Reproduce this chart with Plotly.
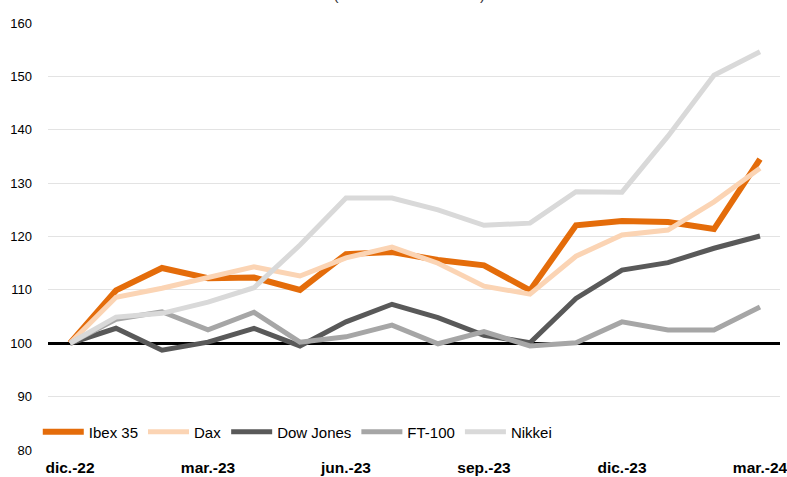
import plotly.graph_objects as go

months = ["dic.-22", "ene.-23", "feb.-23", "mar.-23", "abr.-23", "may.-23", "jun.-23", "jul.-23",
          "ago.-23", "sep.-23", "oct.-23", "nov.-23", "dic.-23", "ene.-24", "feb.-24", "mar.-24"]
ibex = [100, 109.9, 114.1, 112.2, 112.3, 110.0, 116.7, 117.1, 115.6, 114.6, 109.9, 122.1, 122.9, 122.7, 121.4, 134.5]
dax = [100, 108.6, 110.3, 112.2, 114.3, 112.6, 116.0, 118.0, 115.0, 110.7, 109.2, 116.3, 120.3, 121.2, 126.5, 132.8]
dow = [100, 102.8, 98.7, 100.2, 102.8, 99.5, 104.0, 107.3, 104.8, 101.5, 100.1, 108.4, 113.7, 115.1, 117.8, 120.1]
ft100 = [100, 104.5, 105.9, 102.5, 105.8, 100.2, 101.2, 103.4, 99.9, 102.2, 99.5, 100.1, 104.0, 102.5, 102.5, 106.8]
nikkei = [100, 104.9, 105.6, 107.7, 110.4, 118.4, 127.2, 127.2, 125.0, 122.1, 122.5, 128.4, 128.3, 138.8, 150.2, 154.6]

tick_vals = [0, 3, 6, 9, 12, 15]
tick_text = [months[i] for i in tick_vals]
y_ticks = [80, 90, 110, 120, 130, 140, 150, 160]
base_value = 100
title_text = "(Base 100 = dic. 2022)"

series = [
    ("Ibex 35", ibex, "#E46C0A", 6),
    ("Dax", dax, "#FBD4B4", 5),
    ("Dow Jones", dow, "#595959", 5),
    ("FT-100", ft100, "#A6A6A6", 5),
    ("Nikkei", nikkei, "#D9D9D9", 5),
]

x = list(range(len(months)))
fig = go.Figure()
for name, vals, color, w in series:
    fig.add_trace(go.Scatter(x=x, y=vals, name=name, mode="lines",
                             line=dict(color=color, width=w)))

# secondary overlay axis carries the 100 tick and its thick black gridline
fig.add_trace(go.Scatter(x=[None], y=[None], yaxis="y2", showlegend=False, hoverinfo="skip"))

fig.update_layout(
    width=787, height=477,
    margin=dict(l=48, r=7, t=23, b=27, autoexpand=False),
    paper_bgcolor="white", plot_bgcolor="white",
    font=dict(family="Liberation Sans, Arial, sans-serif", color="black", size=13),
    title=dict(text=title_text, x=0.52, xanchor="center", xref="container",
               y=0.9995, yanchor="bottom", font=dict(size=15, color="#333")),
    showlegend=True,
    legend=dict(orientation="h", xref="container", yref="container",
                x=0.048, y=1 - 432 / 477, xanchor="left", yanchor="middle",
                bgcolor="rgba(0,0,0,0)", font=dict(size=15), itemwidth=41,
                tracegroupgap=0),
    xaxis=dict(range=[-0.478, 15.435], tickmode="array", tickvals=tick_vals,
               ticktext=[f"<b>{t}</b>" for t in tick_text], showgrid=False,
               zeroline=False, showline=False, ticks="", ticklabelstandoff=6,
               ticklabeloverflow="allow", tickfont=dict(size=15.5)),
    yaxis=dict(range=[80, 160], tickmode="array", tickvals=y_ticks, showgrid=True,
               gridcolor="#E3E3E3", gridwidth=1, zeroline=False, showline=False,
               ticks="", ticklabelstandoff=15, tickfont=dict(size=13)),
    yaxis2=dict(range=[80, 160], overlaying="y", side="left", tickmode="array",
                tickvals=[base_value], showgrid=True, gridcolor="black", gridwidth=3,
                zeroline=False, showline=False, ticks="", ticklabelstandoff=15,
                tickfont=dict(size=13), layer="below traces"),
)

fig.write_html("out.html", config={"displayModeBar": False},
               post_script="document.body.style.margin='0';document.body.style.padding='0';")
